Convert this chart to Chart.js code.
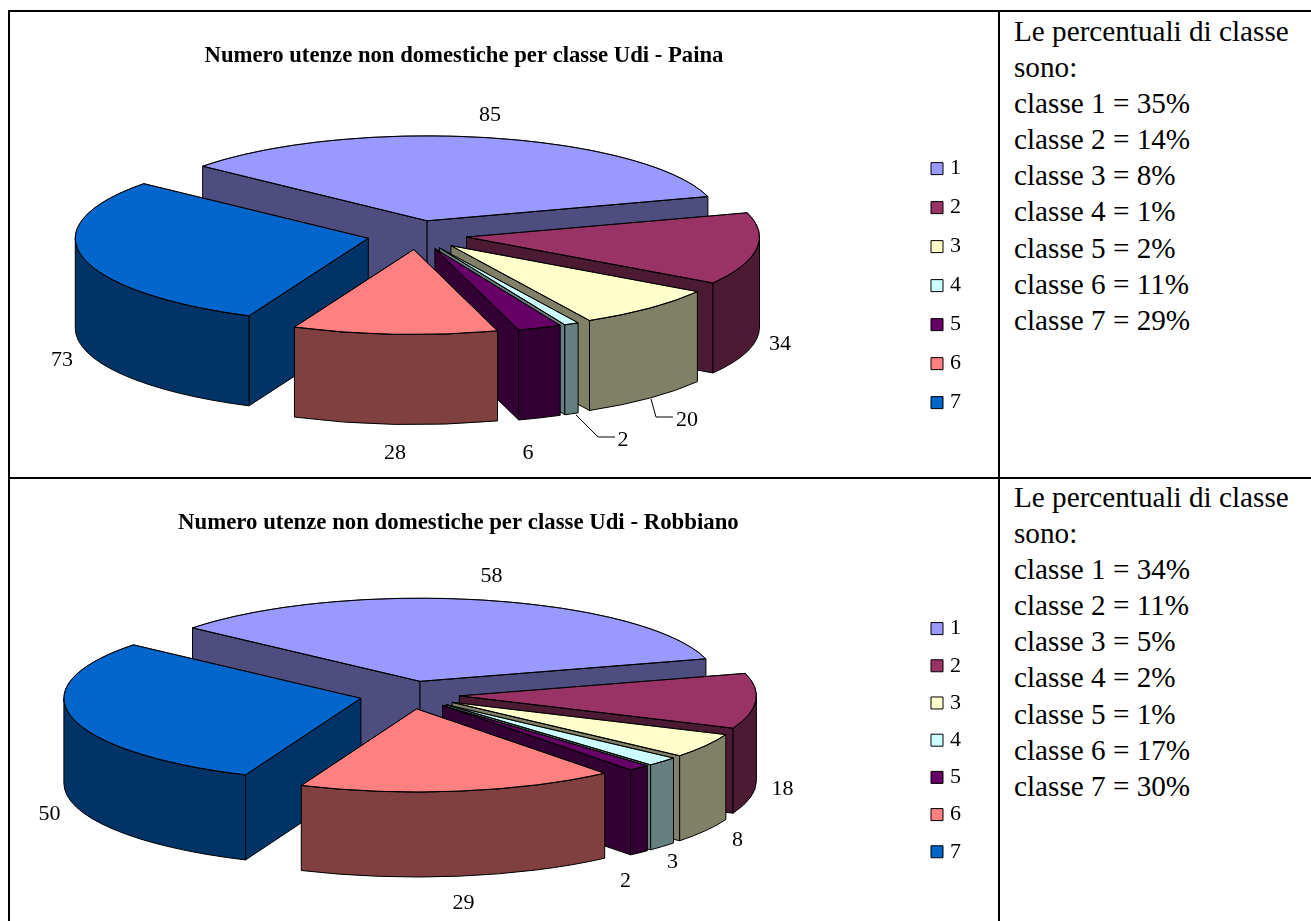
<!DOCTYPE html>
<html><head><meta charset="utf-8">
<script src="https://cdn.jsdelivr.net/npm/chart.js@4/dist/chart.umd.min.js"></script>
<style>
html,body{margin:0;padding:0;background:#fff;width:1311px;height:921px;overflow:hidden}
.line{position:absolute;background:#000}
.chart{position:absolute}
.note{position:absolute;left:1014px;width:295px;font:29.2px/36.1px "Liberation Serif",serif;color:#000;white-space:nowrap}
</style></head><body>
<div class="line" style="left:8px;top:10px;width:1303px;height:2px"></div>
<div class="line" style="left:8px;top:10px;width:2px;height:911px"></div>
<div class="line" style="left:998px;top:10px;width:2px;height:911px"></div>
<div class="line" style="left:8px;top:477px;width:1303px;height:2px"></div>
<div class="chart" style="left:10px;top:12px"><canvas id="c1"></canvas></div>
<div class="chart" style="left:-3px;top:478px"><canvas id="c2"></canvas></div>
<div class="note" id="n1" style="top:13px"></div>
<div class="note" id="n2" style="top:479px"></div>
<script>
const categories = ['1','2','3','4','5','6','7'];
const titleA = 'Numero utenze non domestiche per classe Udi - Paina';
const titleB = 'Numero utenze non domestiche per classe Udi - Robbiano';
const valuesA = [85,34,20,2,6,28,73];
const valuesB = [58,18,8,3,2,29,50];
const percentA = [35,14,8,1,2,11,29];
const percentB = [34,11,5,2,1,17,30];
const colors = ['#9999FF','#993366','#FFFFCC','#CCFFFF','#660066','#FF8080','#0066CC'];
const wallColors = ['#4D4D80','#4D1A33','#808066','#668080','#330033','#804040','#003366'];

function note(id, pct){
  document.getElementById(id).innerHTML = 'Le percentuali di classe<br>sono:<br>' +
    pct.map((p,i)=>'classe '+categories[i]+' = '+p+'%').join('<br>');
}
note('n1',percentA); note('n2',percentB);

const pie3d = {
  id:'pie3d',
  beforeDatasetDraw(chart,args,o){
    const ctx = chart.ctx, arcs = args.meta.data, k=o.tilt, D=o.depth, off=o.explode;
    const geo = arcs.map(a=>{
      const mid=(a.startAngle+a.endAngle)/2;
      return {a,mid,x:o.cx+off*Math.cos(mid),y:o.cy+k*off*Math.sin(mid),R:a.outerRadius};
    });
    const order = geo.map((g,i)=>i).sort((p,q)=>Math.sin(geo[p].mid)-Math.sin(geo[q].mid));
    ctx.save();
    ctx.lineWidth=1; ctx.strokeStyle='#000'; ctx.lineJoin='round';
    const face=(path,col)=>{ctx.beginPath();path();ctx.closePath();ctx.fillStyle=col;ctx.fill();ctx.stroke();};
    for(const i of order){
      const g=geo[i], s=g.a.startAngle, e=g.a.endAngle, R=g.R;
      const cut=(t)=>face(()=>{
        const ex=g.x+R*Math.cos(t), ey=g.y+k*R*Math.sin(t);
        ctx.moveTo(g.x,g.y);ctx.lineTo(ex,ey);ctx.lineTo(ex,ey+D);ctx.lineTo(g.x,g.y+D);
      },wallColors[i]);
      if(Math.cos(s)<0) cut(s);
      if(Math.cos(e)>0) cut(e);
      for(let n=-1;n<=1;n++){
        const a0=Math.max(s,2*Math.PI*n), b0=Math.min(e,Math.PI+2*Math.PI*n);
        if(b0>a0) face(()=>{
          ctx.ellipse(g.x,g.y,R,k*R,0,a0,b0,false);
          ctx.ellipse(g.x,g.y+D,R,k*R,0,b0,a0,true);
        },wallColors[i]);
      }
    }
    for(const g of geo){
      ctx.save();
      ctx.translate(g.x,g.y); ctx.scale(1,k); ctx.translate(-g.a.x,-g.a.y);
      g.a.draw(ctx);
      ctx.beginPath();
      ctx.moveTo(g.a.x,g.a.y);
      ctx.arc(g.a.x,g.a.y,g.R,g.a.startAngle,g.a.endAngle);
      ctx.closePath();
      ctx.restore();
      ctx.stroke();
    }
    ctx.strokeStyle='#000'; ctx.lineWidth=1;
    for(const l of o.leaders){
      ctx.beginPath();
      l.forEach((p,j)=>j?ctx.lineTo(o.cx+p[0],o.cy+p[1]):ctx.moveTo(o.cx+p[0],o.cy+p[1]));
      ctx.stroke();
    }
    ctx.fillStyle='#000'; ctx.font=o.labelFont; ctx.textAlign='center'; ctx.textBaseline='middle';
    args.meta.data.forEach((a,i)=>{
      ctx.fillText(String(chart.data.datasets[0].data[i]),o.cx+o.labelAt[i][0],o.cy+o.labelAt[i][1]);
    });
    ctx.restore();
    return false;
  }
};

function make(id,w,h,title,values,opt){
  const cv=document.getElementById(id);
  cv.width=w;cv.height=h;
  cv.style.width=w+'px';cv.style.height=h+'px';
  cv.parentNode.style.width=w+'px';cv.parentNode.style.height=h+'px';
  return new Chart(cv,{
    type:'pie',
    data:{labels:categories,datasets:[{data:values,backgroundColor:colors,borderColor:'#000',borderWidth:1}]},
    plugins:[pie3d],
    options:{
      responsive:false,animation:false,devicePixelRatio:1,
      radius:opt.radius,rotation:-50,
      layout:{padding:opt.padding},
      plugins:{
        tooltip:{enabled:false},
        title:{display:true,text:title,fullSize:false,color:'#000',
          font:{family:'"Liberation Serif"',weight:'bold',size:opt.titleSize},
          padding:opt.titlePad},
        legend:{position:'right',fullSize:false,
          labels:{usePointStyle:true,pointStyle:'rect',boxWidth:4,boxHeight:12,padding:opt.legendGap,color:'#000',
            font:{family:'"Liberation Serif"',size:22}}},
        pie3d:opt.pie
      }
    }
  });
}
Chart.defaults.font.family='"Liberation Serif"';
make('c1',988,464,titleA,valuesA,{
  radius:293,padding:{left:0,right:27},titleSize:22.7,titlePad:{top:30.5,bottom:25.5},legendGap:17,
  pie:{cx:407,cy:223,tilt:0.29,depth:90,explode:50,labelFont:'22px "Liberation Serif"',
    labelAt:[[73,-120],[363,109],[270,185],[206,205],[111,218],[-22,218],[-355,125]],
    leaders:[[[234,164],[239,182],[256,182]],[[159,180],[181,202],[198,202]]]}
});
make('c2',1001,443,titleB,valuesB,{
  radius:297,padding:{left:0,right:27},titleSize:22.8,titlePad:{top:31.5,bottom:22.5},legendGap:15.2,
  pie:{cx:412.5,cy:217,tilt:0.28,depth:85,explode:50,labelFont:'22px "Liberation Serif"',
    labelAt:[[82,-119],[373,94],[328,145],[263,167],[216,186],[54,208],[-360,119]],
    leaders:[]}
});
</script></body></html>
